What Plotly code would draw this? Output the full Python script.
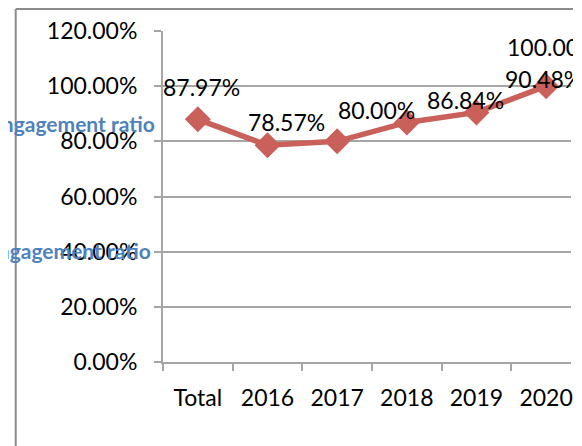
import plotly.graph_objects as go

categories = ["Total", "2016", "2017", "2018", "2019", "2020"]
ratio_pct = [87.97, 78.57, 80.00, 86.84, 90.48, 100.00]
label_text = ["87.97%", "78.57%", "80.00%", "86.84%", "90.48%", "100.00%"]
series_name = "Engagement ratio"

# label offsets (px) copied from the original layout, where labels drift right
label_dx = [4, 19, 39, 59, 67, 6]
label_dy = [32, 23, 31, 22, 33, 39]

FONT = "Lato, Carlito, Calibri, sans-serif"
RED = "#C9605A"
GRID = "#A6A6A6"
FRAME = "#8C8C8C"

# the page has an 8px body margin, so the figure sits at (8, 8)
W, H = 565, 438
L, T, B = 155, 23, 84
PW, PH = W - L, H - T - B

fig = go.Figure()
fig.add_trace(go.Scatter(
    x=categories, y=ratio_pct, mode="lines+markers", name=series_name,
    line=dict(color=RED, width=5.5),
    marker=dict(symbol="diamond", size=20, color=RED),
    showlegend=False, cliponaxis=False,
))

annotations = []
for i, (val, txt, dx, dy) in enumerate(zip(ratio_pct, label_text, label_dx, label_dy)):
    annotations.append(dict(x=i, y=val, xref="x", yref="y", text=txt,
                            showarrow=False, xshift=dx, yshift=dy,
                            font=dict(family=FONT, size=23, color="#000")))

# series name labels, cut off by the left edge like in the source
for ypix, xr in [(123, 157), (250, 153)]:
    annotations.append(dict(x=(xr - 8 - L) / PW, y=1 - (ypix - 8 - T) / PH,
                            xref="paper", yref="paper",
                            xanchor="right", yanchor="middle", showarrow=False,
                            text="<b>" + series_name + "</b>",
                            font=dict(family=FONT, size=21, color="#4F81BD")))

frame_x = (7 - L) / PW
frame_y = 1 + (T - 1) / PH
fig.update_layout(
    width=W, height=H,
    margin=dict(l=L, r=0, t=T, b=B),
    paper_bgcolor="white", plot_bgcolor="white",
    font=dict(family=FONT, size=23, color="#000"),
    annotations=annotations,
    shapes=[
        dict(type="line", xref="paper", yref="paper", x0=frame_x, x1=frame_x,
             y0=-1, y1=frame_y, line=dict(color=FRAME, width=2)),
        dict(type="line", xref="paper", yref="paper", x0=frame_x, x1=1.2,
             y0=frame_y, y1=frame_y, line=dict(color=FRAME, width=2)),
    ],
)
fig.update_xaxes(
    type="category", range=[-0.5, 5.357], tickson="boundaries",
    ticks="outside", ticklen=7, tickcolor=GRID, tickwidth=2,
    showline=True, linecolor=GRID, linewidth=2, showgrid=False,
    ticklabelstandoff=14,
)
fig.update_yaxes(
    range=[0, 120], dtick=20, tickformat=".2f", ticksuffix="%",
    ticks="outside", ticklen=7, tickcolor=GRID, tickwidth=2,
    showline=True, linecolor=GRID, linewidth=2,
    showgrid=True, gridcolor=GRID, gridwidth=2, zeroline=False,
    ticklabelstandoff=12,
)

fig.write_html("out.html")
